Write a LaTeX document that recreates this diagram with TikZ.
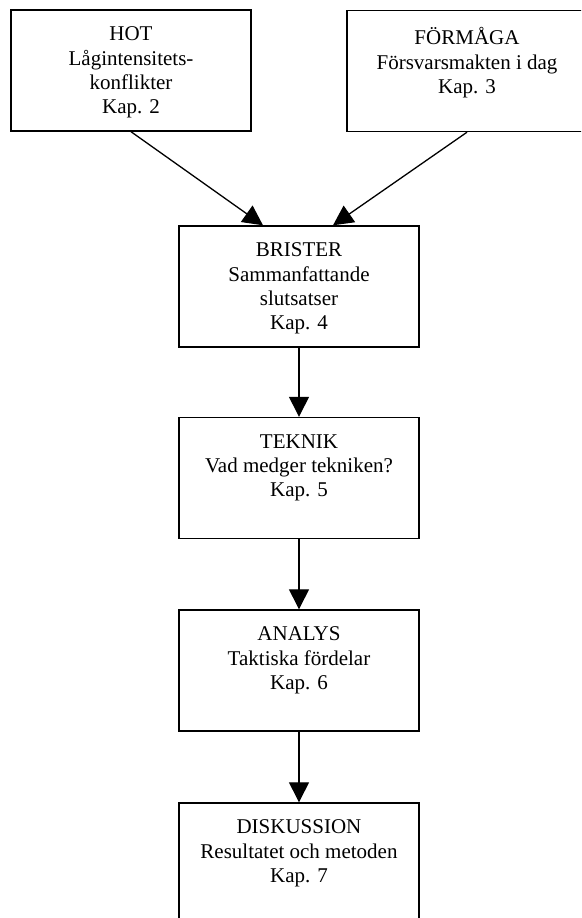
\documentclass[tikz,border=0pt]{standalone}
\usepackage{fontspec}
\setmainfont{Liberation Serif}
\usetikzlibrary{arrows.meta}

\begin{document}
\begin{tikzpicture}[x=1pt,y=-1pt,
   chap/.style={draw=black,line width=1.4pt,minimum width=240pt,minimum height=121pt,inner sep=0pt},
   chaptext/.style={anchor=north,align=center,inner sep=0pt,yshift=-17.5pt,
     font=\fontsize{21}{24.3}\selectfont,execute at begin node=\strut},
   flow/.style={line width=1.3pt,-{Triangle[width=20pt,length=20pt]}}]
   \clip (0,0) rectangle (581,918);
   \node[chap] (hot) at (131,70.5) {};
   \node[chap] (formaga) at (467,71) {};
   \node[chap] (brister) at (299,286.5) {};
   \node[chap] (teknik) at (299,478) {};
   \node[chap] (analys) at (299,670.5) {};
   \node[chap] (diskussion) at (299,863.5) {};
   \node[chaptext] (hottext) at (hot.north) {HOT\\Lågintensitets-\\konflikter\\Kap. 2};
   \node[chaptext] (formagatext) at (formaga.north) {FÖRMÅGA\\Försvarsmakten i dag\\Kap. 3};
   \node[chaptext] (bristertext) at (brister.north) {BRISTER\\Sammanfattande\\slutsatser\\Kap. 4};
   \node[chaptext] (tekniktext) at (teknik.north) {TEKNIK\\Vad medger tekniken?\\Kap. 5};
   \node[chaptext] (analystext) at (analys.north) {ANALYS\\Taktiska fördelar\\Kap. 6};
   \node[chaptext] (diskussiontext) at (diskussion.north) {DISKUSSION\\Resultatet och metoden\\Kap. 7};
   \draw[flow] (hot.south) -- ([xshift=-36pt]brister.north);
   \draw[flow] (formaga.south) -- ([xshift=34pt]brister.north);
   \draw[flow] (brister) -- (teknik);
   \draw[flow] (teknik) -- (analys);
   \draw[flow] (analys) -- (diskussion);
\end{tikzpicture}
\end{document}
